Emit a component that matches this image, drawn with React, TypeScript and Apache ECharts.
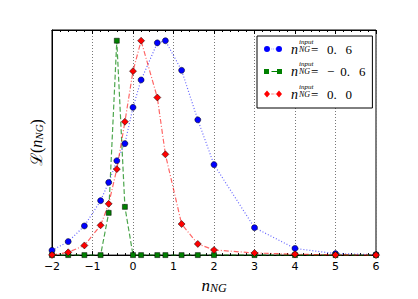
import React, { useEffect, useRef } from 'react';
import * as echarts from 'echarts';

const xValues = [-2, -1.6, -1.2, -0.8, -0.6, -0.4, -0.2, 0, 0.2, 0.6, 0.8, 1.2, 1.6, 2, 3, 4, 5, 6];
const blueValues = [0.022, 0.063, 0.136, 0.254, 0.339, 0.44, 0.52, 0.689, 0.817, 0.99, 1.0, 0.862, 0.631, 0.422, 0.128, 0.031, 0.007, 0.002];
const greenValues = [0, 0, 0, 0, 0.197, 1.0, 0.225, 0, 0, 0, 0, 0, 0, 0, 0, 0, 0, 0];
const redValues = [0.001, 0.013, 0.045, 0.139, 0.239, 0.401, 0.622, 0.858, 1.0, 0.735, 0.47, 0.145, 0.052, 0.024, 0.01, 0.004, 0.001, 0];

const seriesNames = ['input06', 'inputm06', 'input00'];
const legendNumbers = ['0.', '0.', '0.'];
const legendLastDigits = ['6', '6', '0'];
const legendMinus = ['', '−', ''];

const serifFont = "'Liberation Serif', 'DejaVu Serif', serif";

const legendLabel = (i: number) => {
  const minusPart = legendMinus[i] ? `{mn|${legendMinus[i]}}` : '';
  return (
    `{g2| }{sup|input}\n` +
    `{g| }{n|n}{sub|NG}{eq|=}${minusPart}{num|${legendNumbers[i]}}{num2|${legendLastDigits[i]}}\n` +
    `{g3| }`
  );
};

export default function App() {
  const ref = useRef<HTMLDivElement>(null);
  useEffect(() => {
    if (!ref.current) return;
    const chart = echarts.init(ref.current, undefined, { renderer: 'svg' });
    const tickFmt = (v: number) => (v < 0 ? '−' + Math.abs(v) : String(v));
    const makeData = (vals: number[]) => xValues.map((x, i) => [x, vals[i]]);
    const option: any = {
      animation: false,
      grid: { left: 52, right: 42, top: 30, bottom: 38, show: true, borderColor: '#000', borderWidth: 1 },
      xAxis: [
        {
          type: 'value', min: -2, max: 6, interval: 1, position: 'bottom',
          axisLine: { show: true, onZero: false, lineStyle: { color: '#000', width: 1 } },
          axisTick: { show: true, inside: true, length: 4, lineStyle: { color: '#000' } },
          minorTick: { show: true, splitNumber: 5, length: 2, lineStyle: { color: '#000' } },
          axisLabel: { color: '#000', fontFamily: 'DejaVu Sans', fontSize: 11, margin: 6, formatter: tickFmt },
          splitLine: { show: true, lineStyle: { color: '#777', type: [1, 2], width: 1 } },
          name: '{n|n}{s|NG}', nameLocation: 'middle', nameGap: 19,
          nameTextStyle: {
            color: '#000',
            rich: {
              n: { fontFamily: serifFont, fontStyle: 'italic', fontSize: 17, lineHeight: 16, color: '#000' },
              s: { fontFamily: serifFont, fontStyle: 'italic', fontSize: 12, lineHeight: 10, verticalAlign: 'bottom', color: '#000' },
            },
          },
        },
        {
          type: 'value', min: -2, max: 6, interval: 1, position: 'top',
          axisLine: { show: true, onZero: false, lineStyle: { color: '#000', width: 1 } },
          axisTick: { show: true, inside: true, length: 4, lineStyle: { color: '#000' } },
          minorTick: { show: true, splitNumber: 5, length: 2, lineStyle: { color: '#000' } },
          axisLabel: { show: false },
          splitLine: { show: false },
        },
      ],
      yAxis: {
        type: 'value', min: 0, max: 1.05,
        axisLine: { show: true, onZero: false, lineStyle: { color: '#000', width: 1 } },
        axisTick: { show: false }, axisLabel: { show: false }, splitLine: { show: false },
        name: '{L|ℒ}{p|(}{n|n}{s|NG}{p|)}', nameLocation: 'middle', nameRotate: 90, nameGap: 8,
        nameTextStyle: {
          color: '#000',
          rich: {
            L: { fontFamily: serifFont, fontSize: 16, lineHeight: 16, color: '#000' },
            p: { fontFamily: serifFont, fontSize: 16, lineHeight: 16, color: '#000' },
            n: { fontFamily: serifFont, fontStyle: 'italic', fontSize: 16, lineHeight: 16, color: '#000' },
            s: { fontFamily: serifFont, fontStyle: 'italic', fontSize: 11, lineHeight: 9, verticalAlign: 'bottom', color: '#000' },
          },
        },
      },
      legend: {
        orient: 'vertical', left: 257, top: 36,
        padding: [2, 7, 3, 7], itemGap: 0.5, itemWidth: 18, itemHeight: 7,
        symbolKeepAspect: true, selectedMode: false,
        borderColor: '#000', borderWidth: 1, backgroundColor: '#fff', borderRadius: 0,
        itemStyle: { borderWidth: 0 },
        data: [
          { name: seriesNames[0], icon: 'path://M0,3A3,3,0,1,1,6,3A3,3,0,1,1,0,3Z M12,3A3,3,0,1,1,18,3A3,3,0,1,1,12,3Z M7.5,2.7h0.7v0.6h-0.7Z M9.3,2.7h0.7v0.6h-0.7Z M11,2.7h0.7v0.6h-0.7Z' },
          { name: seriesNames[1], icon: 'path://M0,0h5v5h-5Z M7.5,2.1h5.5v0.8h-5.5Z M13,0h5v5h-5Z' },
          { name: seriesNames[2], icon: 'path://M3,0L6,3.5L3,7L0,3.5Z M15,0L18,3.5L15,7L12,3.5Z M7.2,3.15h2.6v0.7h-2.6Z M10.6,3.15h0.8v0.7h-0.8Z' },
        ],
        formatter: (name: string) => legendLabel(seriesNames.indexOf(name)),
        textStyle: {
          color: '#000',
          rich: {
            g2: { width: 12, lineHeight: 7, fontSize: 7 },
            sup: { fontFamily: serifFont, fontStyle: 'italic', fontSize: 7, lineHeight: 7, color: '#000' },
            g: { width: 4, lineHeight: 8, fontSize: 8 },
            n: { fontFamily: serifFont, fontStyle: 'italic', fontSize: 14, lineHeight: 8, color: '#000' },
            sub: { fontFamily: serifFont, fontStyle: 'italic', fontSize: 8, lineHeight: 4.4, verticalAlign: 'bottom', width: 12, padding: [0, 0, 0, 1], color: '#000' },
            eq: { fontFamily: serifFont, fontSize: 13, lineHeight: 8, width: 16, color: '#000' },
            mn: { fontFamily: serifFont, fontSize: 13, lineHeight: 8, width: 13.3, color: '#000' },
            num: { fontFamily: serifFont, fontSize: 13, lineHeight: 8, width: 18.6, color: '#000' },
            num2: { fontFamily: serifFont, fontSize: 13, lineHeight: 8, color: '#000' },
            g3: { lineHeight: 7, fontSize: 7 },
          },
        },
      },
      series: [
        {
          name: seriesNames[0], type: 'line', data: makeData(blueValues), showAllSymbol: true,
          symbol: 'circle', symbolSize: 6,
          itemStyle: { color: '#0000ff', borderColor: '#000', borderWidth: 0.5 },
          lineStyle: { color: '#0000ff', width: 1.2, type: [1, 2], opacity: 0.6 },
          emphasis: { disabled: true },
        },
        {
          name: seriesNames[1], type: 'line', data: makeData(greenValues), showAllSymbol: true,
          symbol: 'rect', symbolSize: 5,
          itemStyle: { color: '#008000', borderColor: '#000', borderWidth: 0.5 },
          lineStyle: { color: '#008000', width: 1.2, type: [5, 2.5], opacity: 0.7 },
          emphasis: { disabled: true },
        },
        {
          name: seriesNames[2], type: 'line', data: makeData(redValues), showAllSymbol: true,
          symbol: 'diamond', symbolSize: 7,
          itemStyle: { color: '#ff0000', borderColor: '#000', borderWidth: 0.5 },
          lineStyle: { color: '#ff0000', width: 1.2, type: [5, 2, 1, 2], opacity: 0.6 },
          emphasis: { disabled: true },
        },
      ],
    };
    chart.setOption(option);
    return () => chart.dispose();
  }, []);
  return <div ref={ref} style={{ position: 'fixed', left: 0, top: 0, width: 418, height: 299, background: '#fff' }} />;
}
